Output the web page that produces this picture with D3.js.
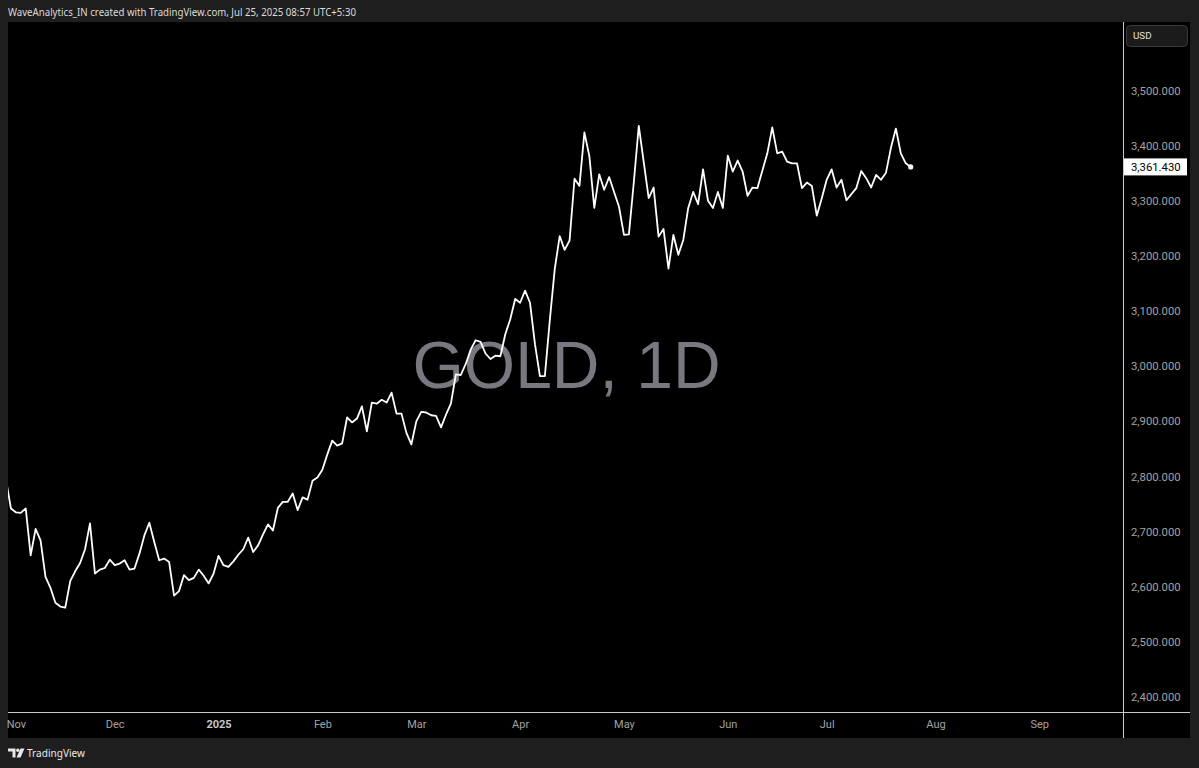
<!DOCTYPE html>
<html><head><meta charset="utf-8">
<script src="https://cdn.jsdelivr.net/npm/d3@7"></script>
<style>html,body{margin:0;padding:0;background:#1e1e1e;overflow:hidden}</style>
</head><body><svg id="c" width="1199" height="768"></svg>
<script>
// ---------------- data ----------------
const symbolTitle = "GOLD, 1D";
const headerText = "WaveAnalytics_IN created with TradingView.com, Jul 25, 2025 08:57 UTC+5:30";
const currency = "USD";
const firstBarDate = "2024-10-30";
const calendarEnd = "2025-09-30";
const marketHolidays = ["2024-11-28","2024-12-25","2025-01-01","2025-01-20","2025-02-17",
  "2025-04-18","2025-05-26","2025-06-19","2025-07-04","2025-09-01"];
// daily closes, one per trading day from firstBarDate
const closes = [
  2795,2742,2735,2734,2742,2657,2705,2684,2618,2598,2571,2564,2562,2610,2628,2643,2668,2715,
  2624,2631,2634,2649,2639,2642,2648,2631,2633,2660,2693,2716,2681,2648,2651,2645,2584,2592,
  2621,2612,2616,2631,2620,2606,2624,
  2656,2639,2636,2646,2658,2668,2689,2663,2675,2695,2713,2702,2743,2754,2754,2769,2739,2762,
  2758,2792,2798,
  2812,2840,2865,2856,2860,2907,2898,2905,2927,2882,2934,2932,2939,2934,2952,2914,2914,2879,2858,
  2900,2917,2916,2911,2910,2889,2912,2932,2985,2984,3004,3030,3047,3044,3023,3013,3019,3018,
  3058,3085,3122,
  3115,3137,3115,3040,2982,2982,3083,3176,3236,3211,3228,3340,3327,3424,3381,3287,3348,3320,
  3343,3316,3289,
  3238,3239,3334,3436,3370,3305,3324,3235,3249,3177,3238,3202,3229,3287,3316,3294,3357,3300,
  3287,3316,3287,
  3382,3353,3373,3353,3309,3324,3323,3355,3386,3433,3386,3389,3371,3368,3368,3323,3333,3327,
  3273,3304,
  3338,3357,3324,3338,3301,3312,3323,3354,3341,3324,3347,3338,3351,3396,3431,3386,3368,3361.43
];
const monthLabels = ["Nov","Dec","2025","Feb","Mar","Apr","May","Jun","Jul","Aug","Sep"];
const boldLabels = ["2025"];
const priceTicks = [2400,2500,2600,2700,2800,2900,3000,3100,3200,3300,3400,3500];

// ---------------- layout ----------------
const W = 1199, H = 768;
const pane = {x0: 8, x1: 1124, y0: 22, y1: 713};
const axisRight = 1190, axisBottom = 738;
const visibleBars = [0.415, 226.14];

// trading calendar (weekdays minus holidays)
const parse = d3.utcParse("%Y-%m-%d"), fmt = d3.utcFormat("%Y-%m-%d");
const hol = new Set(marketHolidays);
const tradingDays = d3.utcDays(parse(firstBarDate), d3.utcDay.offset(parse(calendarEnd), 1))
  .filter(d => d.getUTCDay() !== 0 && d.getUTCDay() !== 6 && !hol.has(fmt(d)));
const monthStarts = [];
tradingDays.forEach((d, i) => {
  if (i > 0 && d.getUTCMonth() !== tradingDays[i - 1].getUTCMonth()) monthStarts.push(i);
});
const monthTicks = monthStarts.slice(0, monthLabels.length).map((idx, k) => ({idx, label: monthLabels[k]}));

const x = d3.scaleLinear().domain(visibleBars).range([pane.x0, pane.x1]);
const y = d3.scaleLinear().domain([2400, 3500]).range([697, 90.5]);

const svg = d3.select("#c");
svg.append("rect").attr("width", W).attr("height", H).attr("fill", "#1e1e1e");
svg.append("rect").attr("x", pane.x0).attr("y", pane.y0)
  .attr("width", axisRight - pane.x0).attr("height", axisBottom - pane.y0).attr("fill", "#000");

svg.append("defs").append("clipPath").attr("id", "clip")
  .append("rect").attr("x", pane.x0).attr("y", pane.y0)
  .attr("width", pane.x1 - pane.x0).attr("height", pane.y1 - pane.y0);

// watermark
svg.append("text").attr("x", (pane.x0 + pane.x1) / 2 + 0.5).attr("y", 388)
  .attr("text-anchor", "middle").attr("font-family", "Liberation Sans, Arial, sans-serif")
  .attr("font-size", 66).attr("fill", "#787880").text(symbolTitle);

// line
const g = svg.append("g").attr("clip-path", "url(#clip)");
g.append("path").datum(closes)
  .attr("fill", "none").attr("stroke", "#ffffff").attr("stroke-width", 1.8)
  .attr("stroke-linejoin", "round")
  .attr("d", d3.line().x((d, i) => x(i)).y(d => y(d)));
const lastI = closes.length - 1, last = closes[lastI];
g.append("circle").attr("cx", x(lastI)).attr("cy", y(last)).attr("r", 2.6).attr("fill", "#fff");

// separators
svg.append("line").attr("x1", pane.x1 - 0.5).attr("x2", pane.x1 - 0.5)
  .attr("y1", pane.y0).attr("y2", axisBottom).attr("stroke", "#c8c8c8").attr("stroke-width", 1);
svg.append("line").attr("x1", pane.x0).attr("x2", axisRight)
  .attr("y1", pane.y1 - 0.5).attr("y2", pane.y1 - 0.5).attr("stroke", "#c8c8c8").attr("stroke-width", 1);

// right axis
const axisFont = "Roboto, 'Noto Sans', sans-serif";
const fmtP = d3.format(",.3f");
const yAxis = svg.append("g").attr("transform", `translate(${pane.x1},0)`)
  .call(d3.axisRight(y).tickValues(priceTicks).tickSize(0).tickPadding(7).tickFormat(fmtP));
yAxis.select(".domain").remove();
yAxis.selectAll("text").attr("fill", "#a3a3a3").attr("font-family", axisFont).attr("font-size", 11.3);

// last price label
const pl = svg.append("g");
pl.append("rect").attr("x", pane.x1).attr("y", y(last) - 8.5).attr("width", 63).attr("height", 17).attr("fill", "#fff");
pl.append("text").attr("x", pane.x1 + 7).attr("y", y(last)).attr("dy", "0.35em")
  .attr("font-family", axisFont).attr("font-size", 11.3).attr("fill", "#000").text(fmtP(last));

// currency box
svg.append("rect").attr("x", 1126.5).attr("y", 25.5).attr("width", 61).attr("height", 21).attr("rx", 4)
  .attr("fill", "#1b1b1b").attr("stroke", "#3a3a3a");
svg.append("text").attr("x", 1133).attr("y", 36).attr("dy", "0.35em").attr("font-family", axisFont)
  .attr("font-size", 9.8).attr("fill", "#e0e0e0").text(currency);

// bottom axis
const xAxis = svg.append("g").attr("transform", `translate(0,${pane.y1})`)
  .call(d3.axisBottom(x).tickValues(monthTicks.map(t => t.idx)).tickSize(0).tickPadding(7)
    .tickFormat((d, k) => monthTicks[k].label));
xAxis.select(".domain").remove();
xAxis.selectAll("text").attr("font-family", axisFont).attr("font-size", 11)
  .attr("fill", d => boldLabels.includes(monthTicks.find(t => t.idx === d).label) ? "#c8c8c8" : "#a3a3a3")
  .attr("font-weight", d => boldLabels.includes(monthTicks.find(t => t.idx === d).label) ? 700 : 400);

// header
svg.append("text").attr("x", 8).attr("y", 15.5).attr("font-family", "'Noto Sans', sans-serif")
  .attr("font-size", 10.8).attr("fill", "#dcdcdc").attr("textLength", 348).attr("lengthAdjust", "spacingAndGlyphs")
  .text(headerText);

// footer logo
const logo = svg.append("g").attr("fill", "#e8e8e8");
logo.append("path").attr("d", "M8 748.5h7.5v9h-3v-6h-4.5z");
logo.append("circle").attr("cx", 17.8).attr("cy", 750.2).attr("r", 1.7);
logo.append("path").attr("d", "M20.5 748.5h4l-4 9h-4z");
svg.append("text").attr("x", 27).attr("y", 757).attr("font-family", "'Noto Sans', sans-serif")
  .attr("font-size", 11).attr("fill", "#e8e8e8").attr("textLength", 58).attr("lengthAdjust", "spacingAndGlyphs")
  .text("TradingView");
</script></body></html>
